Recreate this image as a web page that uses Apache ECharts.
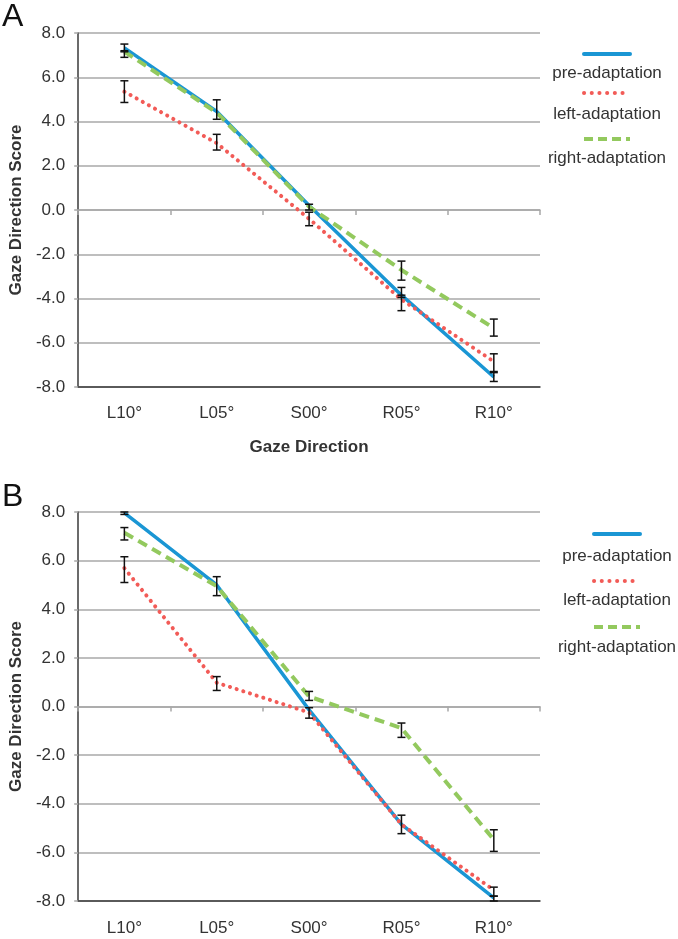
<!DOCTYPE html>
<html><head><meta charset="utf-8">
<script src="https://cdn.jsdelivr.net/npm/echarts@6/dist/echarts.min.js"></script>
<style>html,body{margin:0;padding:0;background:#fff}#c{width:678px;height:939px}</style>
</head><body><div id="c"></div>
<script>
const categories = ['L10°', 'L05°', 'S00°', 'R05°', 'R10°'];
const seriesNames = ['pre-adaptation', 'left-adaptation', 'right-adaptation'];
const yTicks = [-8, -6, -4, -2, 0, 2, 4, 6, 8];

// Panel A
const preA   = [7.33, 4.45, 0.2, -3.85, -7.55];
const leftA  = [5.35, 3.02, -0.4, -4.05, -6.85];
const rightA = [7.16, 4.40, 0.15, -2.71, -5.34];
// error bars [category index, low, high]
const errA = [
  [0, 7.15, 7.5], [0, 6.9, 7.2], [0, 4.86, 5.84],
  [1, 4.1, 4.98], [1, 2.71, 3.42],
  [2, 0.0, 0.26], [2, -0.71, -0.1],
  [3, -3.17, -2.31], [3, -3.95, -3.5], [3, -4.55, -3.85],
  [4, -5.7, -4.93], [4, -7.3, -6.5], [4, -7.75, -7.35]
];

// Panel B
const preB   = [7.96, 5.0, -0.14, -4.85, -7.87];
const leftB  = [5.69, 0.98, -0.25, -4.85, -7.55];
const rightB = [7.15, 4.95, 0.41, -0.89, -5.48];
const errB = [
  [0, 7.9, 8.0], [0, 6.85, 7.36], [0, 5.1, 6.16],
  [1, 4.56, 5.34], [1, 0.66, 1.23],
  [2, 0.25, 0.62], [2, -0.48, -0.05],
  [3, -1.27, -0.68], [3, -5.23, -4.47],
  [4, -5.96, -5.07], [4, -7.8, -7.43], [4, -8.0, -7.8]
];

const BLUE = '#1a96d4', RED = '#f25b57', GREEN = '#93c95e';
const GRIDC = '#a8a8a8', DARK = '#3a3a3a', TXT = '#333';
const FONT = 'Liberation Sans, Arial, sans-serif';
const FS = 17;

const grids = [
  {left: 75, right: 138, top: 33, height: 354},
  {left: 75, right: 138, top: 512, height: 389}
];

function yAxis(gi) {
  return {
    type: 'value', gridIndex: gi, min: -8, max: 8, interval: 2,
    name: 'Gaze Direction Score', nameLocation: 'middle', nameGap: 52,
    nameTextStyle: {fontFamily: FONT, fontSize: FS, fontWeight: 'bold', color: TXT},
    axisLine: {show: true, lineStyle: {color: DARK, width: 1.5}},
    axisTick: {show: true, length: 4, lineStyle: {color: GRIDC, width: 1.5}},
    axisLabel: {fontFamily: FONT, fontSize: FS, color: TXT, margin: 13,
                formatter: v => v.toFixed(1)},
    splitLine: {show: true, lineStyle: {color: GRIDC, width: 1.5}}
  };
}
function xZero(gi) {
  return {
    type: 'category', gridIndex: gi, data: categories, boundaryGap: true,
    axisLine: {show: true, onZero: true, lineStyle: {color: GRIDC, width: 1.5}},
    axisTick: {show: true, length: 5, inside: false, lineStyle: {color: GRIDC, width: 1.5}},
    axisLabel: {show: false}, splitLine: {show: false}
  };
}
function xBottom(gi, withName, margin) {
  const ax = {
    type: 'category', gridIndex: gi, data: categories, boundaryGap: true, position: 'bottom',
    axisLine: {show: true, onZero: false, lineStyle: {color: DARK, width: 1.5}},
    axisTick: {show: false},
    axisLabel: {fontFamily: FONT, fontSize: FS, color: TXT, margin: margin},
    splitLine: {show: false}
  };
  if (withName) {
    ax.name = 'Gaze Direction';
    ax.nameLocation = 'middle';
    ax.nameGap = 52;
    ax.nameTextStyle = {fontFamily: FONT, fontSize: FS, fontWeight: 'bold', color: TXT};
  }
  return ax;
}

function lineSeries(name, data, xi, yi, color, type, width, cap) {
  return {
    name: name, type: 'line', data: data, xAxisIndex: xi, yAxisIndex: yi,
    symbol: 'none', smooth: false, animation: false,
    lineStyle: {color: color, width: width, type: type, cap: cap || 'butt'},
    z: 3
  };
}
function errSeries(data, xi, yi) {
  return {
    type: 'custom', data: data, xAxisIndex: xi, yAxisIndex: yi, z: 10, animation: false,
    encode: {x: 0, y: [1, 2]},
    renderItem: function (params, api) {
      const lo = api.coord([api.value(0), api.value(1)]);
      const hi = api.coord([api.value(0), api.value(2)]);
      const w = 4;
      const st = {stroke: '#111', lineWidth: 1.5};
      return {type: 'group', children: [
        {type: 'line', shape: {x1: lo[0], y1: lo[1], x2: hi[0], y2: hi[1]}, style: st},
        {type: 'line', shape: {x1: lo[0] - w, y1: lo[1], x2: lo[0] + w, y2: lo[1]}, style: st},
        {type: 'line', shape: {x1: hi[0] - w, y1: hi[1], x2: hi[0] + w, y2: hi[1]}, style: st}
      ]};
    }
  };
}

const DOT = [0.1, 6.9], DASH = [10, 6];

function legendGraphics(cx, ys) {
  const styles = [
    {stroke: BLUE, lineWidth: 4, lineDash: null, lineCap: 'round'},
    {stroke: RED, lineWidth: 4, lineDash: [0.1, 7.6], lineCap: 'round'},
    {stroke: GREEN, lineWidth: 4, lineDash: [9, 5], lineCap: 'butt'}
  ];
  const out = [];
  seriesNames.forEach((n, i) => {
    out.push({type: 'line', shape: {x1: cx - 23, y1: ys[i][0], x2: cx + 23, y2: ys[i][0]},
              style: Object.assign({}, styles[i])});
    out.push({type: 'text', x: cx, y: ys[i][1],
              style: {text: n, fill: TXT, font: FS + 'px ' + FONT, textAlign: 'center', textVerticalAlign: 'middle'}});
  });
  return out;
}

const chart = echarts.init(document.getElementById('c'), null, {renderer: 'canvas'});
chart.setOption({
  animation: false,
  backgroundColor: '#fff',
  grid: grids,
  xAxis: [xZero(0), xBottom(0, true, 18), xZero(1), xBottom(1, false, 19)],
  yAxis: [yAxis(0), yAxis(1)],
  series: [
    lineSeries(seriesNames[0], preA, 0, 0, BLUE, 'solid', 3.5),
    lineSeries(seriesNames[1], leftA, 0, 0, RED, DOT, 4, 'round'),
    lineSeries(seriesNames[2], rightA, 0, 0, GREEN, DASH, 4),
    errSeries(errA, 0, 0),
    lineSeries(seriesNames[0], preB, 2, 1, BLUE, 'solid', 3.5),
    lineSeries(seriesNames[1], leftB, 2, 1, RED, DOT, 4, 'round'),
    lineSeries(seriesNames[2], rightB, 2, 1, GREEN, DASH, 4),
    errSeries(errB, 2, 1)
  ],
  graphic: [
    {type: 'text', left: 2, top: 1, style: {text: 'A', fill: '#111', font: '32px ' + FONT}},
    {type: 'text', left: 2, top: 481, style: {text: 'B', fill: '#111', font: '32px ' + FONT}}
  ].concat(legendGraphics(607, [[54, 73], [93, 114], [139, 158]]))
   .concat(legendGraphics(617, [[534, 556], [581, 600], [627, 647]]))
});
</script></body></html>
